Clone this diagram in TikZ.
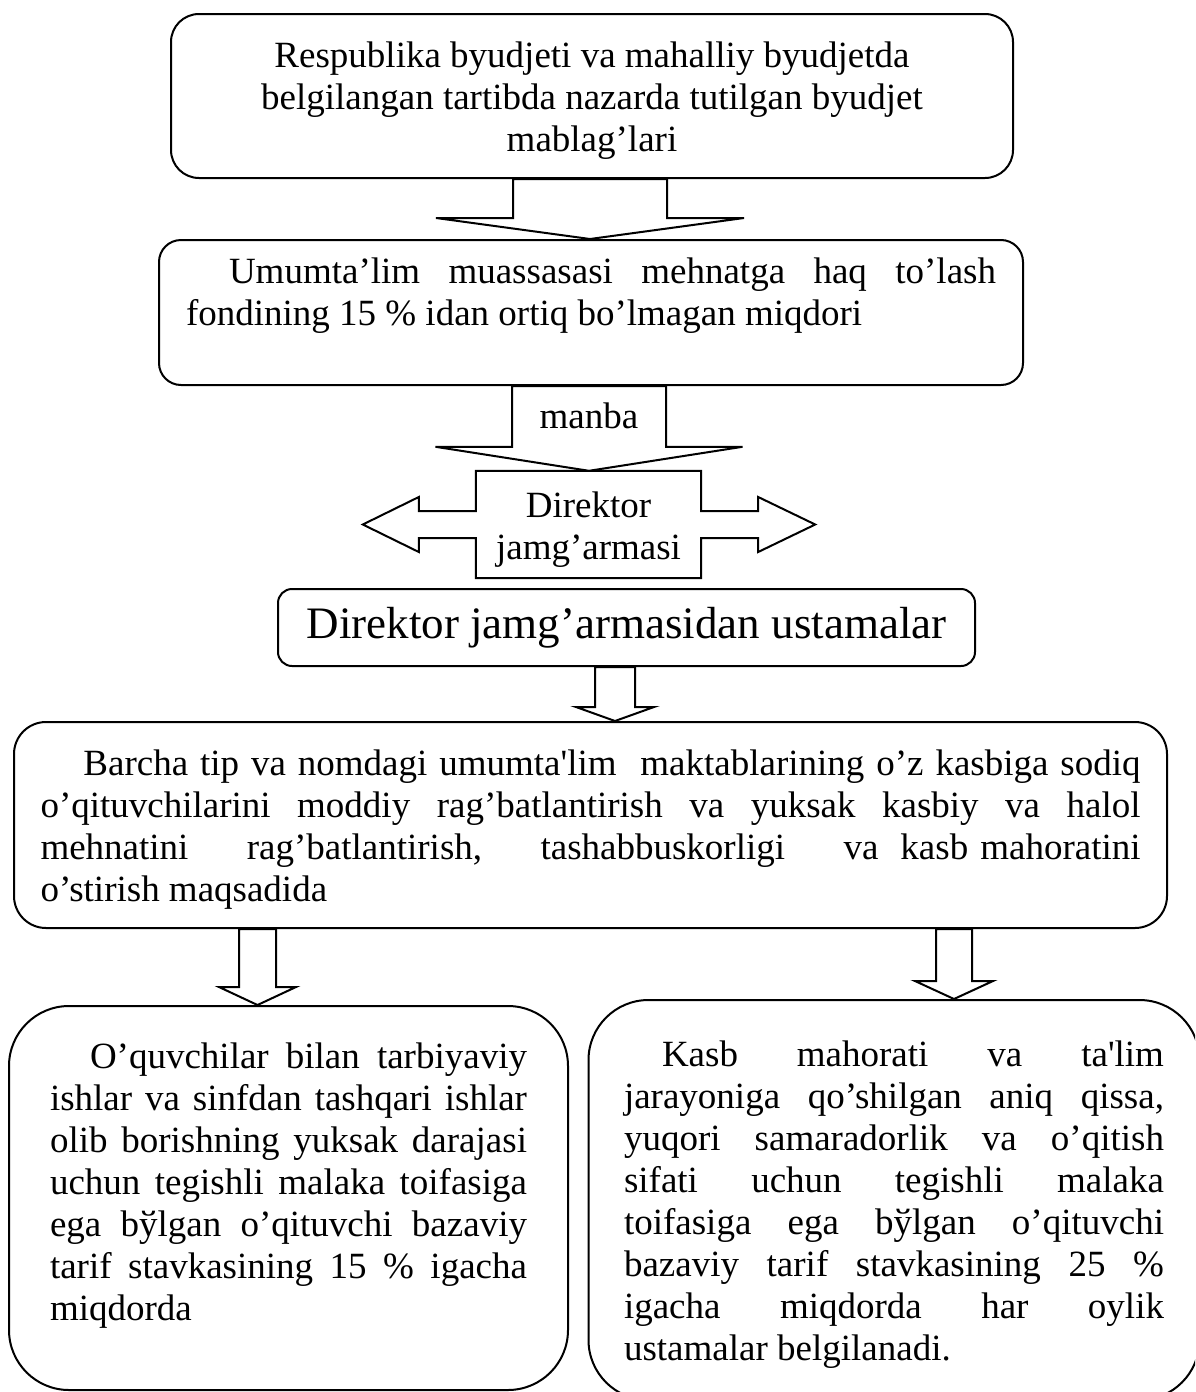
\documentclass[tikz,border=0pt]{standalone}
\usepackage{fontspec}
\setmainfont{Liberation Serif}[Ligatures=TeXOff]
\usetikzlibrary{calc}

\tikzset{
  box/.style={draw, line width=2pt, inner ysep=0pt},
  blockline/.style={draw, line width=2pt, fill=white},
}

% hollow block arrow going down from one box to the next
\newcommand{\blockdown}[6]{%
  \draw[blockline] let \p1=(#3,0 |- #1.south), \p2=(#3,0 |- #2.north) in
    (\x1-#4pt,\y1) -- (\x1-#4pt,\y2+#6pt) -- (\x1-#5pt,\y2+#6pt) -- (\x2,\y2)
    -- (\x1+#5pt,\y2+#6pt) -- (\x1+#4pt,\y2+#6pt) -- (\x1+#4pt,\y1) -- cycle;}

\begin{document}
\begin{tikzpicture}[x=1pt, y=-1pt, font=\fontsize{37pt}{42pt}\selectfont]
\useasboundingbox[fill=white] (0,0) rectangle (1195,1392);
\clip (0,0) rectangle (1195,1392);

\node[box, rounded corners=28pt, inner xsep=20pt] (budget) at (592,96)
  {\parbox[c][164pt][t]{802pt}{\centering\vspace*{23.6pt}
   \strut Respublika byudjeti va mahalliy byudjetda\\
   \strut belgilangan tartibda nazarda tutilgan byudjet\\
   \strut mablag’lari}};

\node[box, rounded corners=22pt, inner xsep=27pt] (fund) at (591,312.5)
  {\parbox[c][145pt][t]{810pt}{\vspace*{13.6pt}
   \strut\makebox[810pt][s]{\hspace{43pt}Umumta’lim muassasasi mehnatga haq to’lash}\\
   \strut fondining 15 \% idan ortiq bo’lmagan miqdori}};

\node[inner sep=0pt] (dir) at (588.5,524.5)
  {\parbox[c][107pt][t]{225pt}{\centering\vspace*{16.6pt}
   \strut Direktor\\
   \strut jamg’armasi}};

\node[box, rounded corners=14pt, minimum width=697pt, minimum height=77pt,
  font=\fontsize{45pt}{50pt}\selectfont] (bonus)
  at (626.5,627.5) {Direktor jamg’armasidan ustamalar};

\node[box, rounded corners=32pt, inner xsep=26.5pt] (aim) at (590.5,825)
  {\parbox[c][206pt][t]{1100pt}{\vspace*{23.6pt}
   \strut\makebox[1100pt][s]{\hspace{43pt}Barcha tip va nomdagi umumta'lim\ \ maktablarining o’z kasbiga sodiq}\\
   \strut\makebox[1100pt][s]{o’qituvchilarini moddiy rag’batlantirish va yuksak kasbiy va halol}\\
   \strut\makebox[1100pt][l]{mehnatini\hfill rag’batlantirish,\hfill tashabbuskorligi\hfill va\hspace{22pt}kasb\hspace{12pt}mahoratini}\\
   \strut o’stirish maqsadida}};

\node[box, rounded corners=60pt, inner xsep=41pt] (pupils) at (288.5,1198)
  {\parbox[c][384pt][t]{477pt}{\vspace*{32.6pt}
   \strut\makebox[477pt][s]{\hspace{40pt}O’quvchilar bilan tarbiyaviy}\\
   \strut\makebox[477pt][s]{ishlar va sinfdan tashqari ishlar}\\
   \strut\makebox[477pt][s]{olib borishning yuksak darajasi}\\
   \strut\makebox[477pt][s]{uchun tegishli malaka toifasiga}\\
   \strut\makebox[477pt][s]{ega bўlgan o’qituvchi bazaviy}\\
   \strut\makebox[477pt][s]{tarif stavkasining 15 \% igacha}\\
   \strut miqdorda}};

\node[box, rounded corners=60pt, inner xsep=35.5pt] (quality) at (894,1200)
  {\parbox[c][400pt][t]{540pt}{\vspace*{36.6pt}
   \strut\makebox[540pt][s]{\hspace{38pt}Kasb mahorati va ta'lim}\\
   \strut\makebox[540pt][s]{jarayoniga qo’shilgan aniq qissa,}\\
   \strut\makebox[540pt][s]{yuqori samaradorlik va o’qitish}\\
   \strut\makebox[540pt][s]{sifati uchun tegishli malaka}\\
   \strut\makebox[540pt][s]{toifasiga ega bўlgan o’qituvchi}\\
   \strut\makebox[540pt][s]{bazaviy tarif stavkasining 25 \%}\\
   \strut\makebox[540pt][s]{igacha miqdorda har oylik}\\
   \strut ustamalar belgilanadi.}};

% box with a hollow arrow on each side
\draw[blockline, fill=none] let \p1=(dir.north west), \p2=(dir.south east), \p3=(dir.center) in
  (\x1,\y1) -- (\x2,\y1) -- (\x2,\y3+13.5pt) -- (\x2+57pt,\y3+13.5pt) -- (\x2+57pt,\y3+27.5pt)
  -- (\x2+114pt,\y3) -- (\x2+57pt,\y3-27.5pt) -- (\x2+57pt,\y3-13.5pt) -- (\x2,\y3-13.5pt)
  -- (\x2,\y2) -- (\x1,\y2) -- (\x1,\y3-13.5pt) -- (\x1-57pt,\y3-13.5pt) -- (\x1-57pt,\y3-27.5pt)
  -- (\x1-113pt,\y3) -- (\x1-57pt,\y3+27.5pt) -- (\x1-57pt,\y3+13.5pt) -- (\x1,\y3+13.5pt) -- cycle;

\blockdown{budget}{fund}{590}{77}{154}{21}
\blockdown{fund}{dir}{589}{77}{153.5}{24}
\node (via) at (589,416) {manba};
\blockdown{bonus}{aim}{615}{20}{39}{14}
\blockdown{aim}{pupils}{257.5}{18.5}{38.5}{18}
\blockdown{aim}{quality}{954}{18}{39}{18}
\end{tikzpicture}
\end{document}
